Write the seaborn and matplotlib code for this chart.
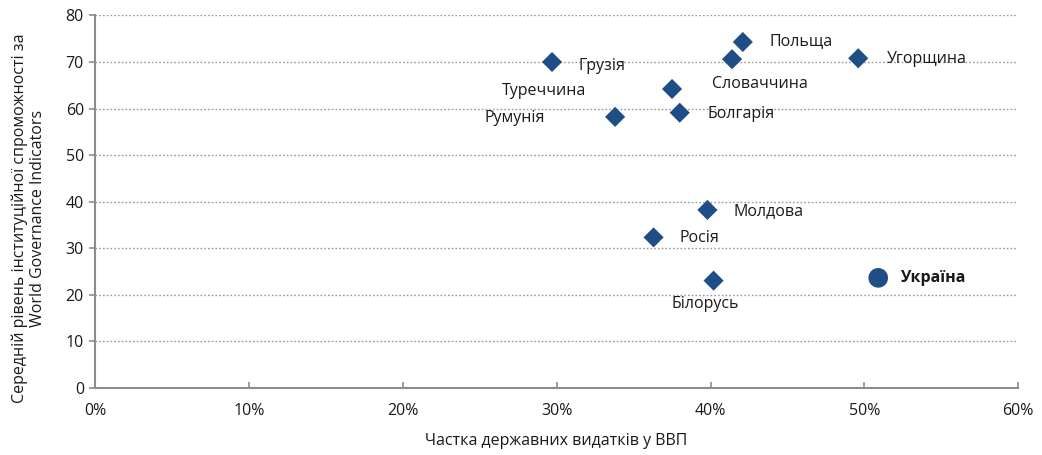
import matplotlib
matplotlib.use("Agg")
import matplotlib.pyplot as plt
import pandas as pd
import seaborn as sns
from matplotlib.ticker import PercentFormatter

countries = ["Грузія", "Польща", "Словаччина", "Угорщина", "Туреччина", "Болгарія",
             "Румунія", "Молдова", "Росія", "Білорусь"]
spending = [29.7, 42.1, 41.4, 49.6, 37.5, 38.0, 33.8, 39.8, 36.3, 40.2]
governance = [70.0, 74.3, 70.6, 70.8, 64.2, 59.1, 58.2, 38.2, 32.3, 23.0]

ukraine_name = "Україна"
ukraine_spending = 50.9
ukraine_governance = 23.6

x_ticks = [0, 10, 20, 30, 40, 50, 60]
y_ticks = [0, 10, 20, 30, 40, 50, 60, 70, 80]

# label offsets in pixels (dx, dy, ha)
label_pos = {
    "Грузія": (26, -4, "left"),
    "Польща": (27, 1, "left"),
    "Словаччина": (-20, -25, "left"),
    "Угорщина": (29, -1, "left"),
    "Туреччина": (-86, -2, "right"),
    "Болгарія": (28, -1, "left"),
    "Румунія": (-70, -1, "right"),
    "Молдова": (26, -1, "left"),
    "Росія": (26, -1, "left"),
    "Білорусь": (-8, -23, "center"),
}

sns.set_style("white")
plt.rcParams["font.family"] = ["Open Sans", "DejaVu Sans"]

color = "#1f4e87"
grey = "#8c8c8c"
text_color = "#1a1a1a"
fs = 11.5

df = pd.DataFrame({"country": countries, "x": spending, "y": governance})
ua = pd.DataFrame({"country": [ukraine_name], "x": [ukraine_spending], "y": [ukraine_governance]})

fig = plt.figure(figsize=(10.42, 4.55), dpi=100)
ax = fig.add_axes([0.0912, 0.148, 0.886, 0.818])

sns.scatterplot(data=df, x="x", y="y", marker="D", s=105, color=color,
                edgecolor="none", ax=ax, zorder=3)
sns.scatterplot(data=ua, x="x", y="y", marker="o", s=200, color=color,
                edgecolor="none", ax=ax, zorder=3)

for name, xv, yv in zip(countries, spending, governance):
    dx, dy, ha = label_pos[name]
    ax.annotate(name, (xv, yv), xytext=(dx, dy), textcoords="offset pixels",
                ha=ha, va="center", fontsize=fs, color=text_color)
ax.annotate(ukraine_name, (ukraine_spending, ukraine_governance), xytext=(22, 0),
            textcoords="offset pixels", ha="left", va="center", fontsize=fs,
            fontweight="bold", color=text_color)

ax.set_xlim(0, 60)
ax.set_ylim(0, 80)
ax.set_xticks(x_ticks)
ax.set_yticks(y_ticks)
ax.xaxis.set_major_formatter(PercentFormatter(decimals=0))

ax.yaxis.grid(True, linestyle=(0, (1.2, 1.5)), color="#9a9a9a", linewidth=1.0)
ax.xaxis.grid(False)
for side in ["top", "right"]:
    ax.spines[side].set_visible(False)
for side in ["left", "bottom"]:
    ax.spines[side].set_color(grey)
    ax.spines[side].set_linewidth(1.5)

ax.tick_params(axis="x", direction="in", length=4, width=1.2, color=grey,
               labelsize=fs, pad=11, labelcolor=text_color)
ax.tick_params(axis="y", direction="out", length=4, width=1.2, color=grey,
               labelsize=fs, pad=4, labelcolor=text_color)
ax.tick_params(left=True, bottom=True)

ax.set_xlabel("Частка державних видатків у ВВП", fontsize=fs, labelpad=10, color=text_color)
ax.set_ylabel("Середній рівень інституційної спроможності за\nWorld Governance Indicators",
              fontsize=fs, color=text_color, linespacing=1.15)
ax.yaxis.set_label_coords(-0.053, 0.455)

fig.savefig("out.png", dpi=100)
